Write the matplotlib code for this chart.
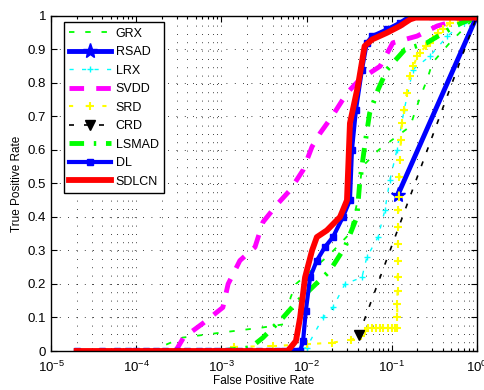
import numpy as np
import matplotlib
matplotlib.use('Agg')
import matplotlib.pyplot as plt
from matplotlib.ticker import LogLocator, NullFormatter, FixedLocator

plt.rcParams['font.family'] = ['Liberation Sans', 'DejaVu Sans']
plt.rcParams['mathtext.default'] = 'regular'

# ROC curves (FPR on log axis, TPR)
grx_fpr = [1.5e-4, 3.5e-4, 1.0e-3, 3.0e-3, 5.5e-3, 6.5e-3, 7.5e-3, 1.9e-2, 3.2e-2,
           4.0e-2, 4.5e-2, 7.0e-2, 0.164, 0.21, 0.26, 0.30, 0.48, 0.75, 1.0]
grx_tpr = [0.0, 0.04, 0.055, 0.07, 0.08, 0.16, 0.20, 0.29, 0.35,
           0.45, 0.55, 0.60, 0.67, 0.75, 0.81, 0.86, 0.92, 0.97, 1.0]

rsad_fpr = [0.118, 1.0]
rsad_tpr = [0.466, 1.0]

lrx_fpr = [6.4e-3, 1.0e-2, 1.56e-2, 2.04e-2, 2.82e-2, 4.47e-2, 5.1e-2, 6.9e-2, 8.3e-2,
           9.5e-2, 0.115, 0.14, 0.177, 0.28, 0.45, 0.7, 1.0]
lrx_tpr = [0.0, 0.01, 0.10, 0.13, 0.20, 0.22, 0.28, 0.34, 0.42,
           0.51, 0.60, 0.72, 0.84, 0.88, 0.94, 0.98, 1.0]

svdd_fpr = [2.9e-4, 3.6e-4, 6.1e-4, 1.04e-3, 1.2e-3, 1.65e-3, 2.48e-3, 3.08e-3, 4.6e-3,
            6.4e-3, 9.1e-3, 1.16e-2, 1.44e-2, 1.99e-2, 2.98e-2, 4.2e-2, 7.3e-2, 0.103,
            0.198, 0.34, 0.63, 1.0]
svdd_tpr = [0.0, 0.04, 0.083, 0.13, 0.2, 0.27, 0.31, 0.385, 0.44,
            0.48, 0.54, 0.61, 0.65, 0.70, 0.77, 0.81, 0.85, 0.92,
            0.94, 0.97, 0.99, 1.0]

srd_fpr = [1.4e-3, 4e-3, 1e-2, 2e-2, 3.3e-2, 4.3e-2, 4.8e-2, 5.2e-2, 5.8e-2, 6.5e-2,
           7.2e-2, 8e-2, 9e-2, 0.1, 0.108, 0.115, 0.116, 0.116, 0.117, 0.117,
           0.118, 0.118, 0.119, 0.12, 0.121, 0.123, 0.125, 0.128, 0.131, 0.14,
           0.15, 0.163, 0.18, 0.198, 0.215, 0.25, 0.28, 0.306, 0.35, 0.40,
           0.48, 0.6, 1.0]
srd_tpr = [0.012, 0.015, 0.02, 0.025, 0.033, 0.045, 0.06, 0.07, 0.07, 0.07,
           0.07, 0.07, 0.07, 0.07, 0.07, 0.07, 0.1, 0.14, 0.18, 0.22,
           0.27, 0.32, 0.37, 0.42, 0.46, 0.52, 0.57, 0.63, 0.68, 0.72,
           0.77, 0.82, 0.85, 0.88, 0.89, 0.91, 0.92, 0.93, 0.95, 0.96,
           0.98, 0.99, 1.0]

crd_fpr = [0.041, 1.0]
crd_tpr = [0.048, 1.0]

lsmad_fpr = [1.0e-3, 2.2e-3, 3.08e-3, 5.3e-3, 7.3e-3, 1.88e-2, 2.82e-2, 3.9e-2, 4.2e-2,
             4.8e-2, 5.5e-2, 6.9e-2, 8.8e-2, 0.143, 0.259, 0.55, 0.83, 1.0]
lsmad_tpr = [0.0, 0.01, 0.04, 0.10, 0.14, 0.24, 0.31, 0.40, 0.50,
             0.61, 0.71, 0.78, 0.84, 0.90, 0.92, 0.97, 0.99, 1.0]

dl_fpr = [2e-5, 4e-5, 6e-5, 8e-5, 1e-4, 1.3e-4, 1.7e-4, 2.2e-4, 3e-4, 4e-4, 5.5e-4,
          7e-4, 9e-4, 1.2e-3, 1.6e-3, 2.1e-3, 2.8e-3, 3.6e-3, 4.5e-3, 5.5e-3, 6.5e-3,
          7.5e-3, 8.4e-3, 9.1e-3, 9.8e-3, 1.1e-2, 1.32e-2, 1.64e-2, 2.04e-2, 2.67e-2,
          3.23e-2, 3.41e-2, 3.8e-2, 4.47e-2, 5.1e-2, 5.9e-2, 8.8e-2, 0.125, 0.165,
          0.3, 0.6, 1.0]
dl_tpr = [0, 0, 0, 0, 0, 0, 0, 0, 0, 0, 0,
          0, 0, 0, 0, 0, 0, 0, 0, 0, 0,
          0, 0, 0.03, 0.12, 0.22, 0.27, 0.31, 0.34, 0.40,
          0.45, 0.60, 0.72, 0.84, 0.92, 0.94, 0.96, 0.98, 1.0,
          1.0, 1.0, 1.0]

sdlcn_fpr = [2.0e-5, 6.0e-3, 7.5e-3, 8.4e-3, 9.6e-3, 1.16e-2, 1.32e-2, 1.73e-2, 2.47e-2,
             2.98e-2, 3.23e-2, 4.0e-2, 4.8e-2, 5.9e-2, 8.8e-2, 0.125, 0.165, 0.19, 1.0]
sdlcn_tpr = [0, 0, 0.03, 0.10, 0.22, 0.30, 0.34, 0.36, 0.40,
             0.45, 0.68, 0.79, 0.91, 0.93, 0.95, 0.97, 0.99, 0.995, 0.995]

ytick_labels = ['0', '0.1', '0.2', '0.3', '0.4', '0.5', '0.6', '0.7', '0.8', '0.9', '1']

fig = plt.figure(figsize=(4.84, 3.9), dpi=100)
ax = fig.add_axes([0.1054, 0.1, 0.880, 0.859])

ax.plot(grx_fpr, grx_tpr, color=(0, 1, 0), lw=1.3, ls=(0, (3, 6)), label='GRX')
ax.plot(rsad_fpr, rsad_tpr, color=(0, 0, 1), lw=3.5, marker='*', ms=11, label='RSAD')
ax.plot(lrx_fpr, lrx_tpr, color=(0, 1, 1), lw=1.0, ls=(0, (3, 6)), marker='+', ms=5,
        mew=1.0, label='LRX')
ax.plot(svdd_fpr, svdd_tpr, color=(1, 0, 1), lw=3.5, ls=(0, (3, 2.5)), label='SVDD')
ax.plot(srd_fpr, srd_tpr, color=(1, 1, 0), lw=1.5, ls=(0, (2, 6)), marker='+', ms=6,
        mew=1.5, label='SRD')
ax.plot(crd_fpr, crd_tpr, color='k', lw=1.2, ls=(0, (3, 6)), marker='v', ms=7,
        label='CRD')
ax.plot(lsmad_fpr, lsmad_tpr, color=(0, 1, 0), lw=3.5, ls=(0, (3, 2, 0.5, 2)),
        label='LSMAD')
ax.plot(dl_fpr, dl_tpr, color=(0, 0, 1), lw=3, marker='s', ms=5, label='DL')
ax.plot(sdlcn_fpr, sdlcn_tpr, color=(1, 0, 0), lw=4.2, label='SDLCN')

ax.set_xscale('log')
ax.set_xlim(1e-5, 1)
ax.set_ylim(0, 1)
ax.yaxis.set_major_locator(FixedLocator(np.arange(0, 1.01, 0.1)))
ax.set_yticklabels(ytick_labels)
ax.xaxis.set_minor_locator(LogLocator(base=10, subs=np.arange(2, 10), numticks=20))
ax.xaxis.set_minor_formatter(NullFormatter())

ax.tick_params(which='both', direction='in', top=True, right=True, labelsize=9.5,
               width=0.8, colors='k')
ax.tick_params(which='major', length=4)
ax.tick_params(which='minor', length=2)
ax.tick_params(axis='x', which='major', pad=6)
ax.grid(True, which='both', axis='x', ls=(0, (1, 9)), color='k', lw=0.6)
ax.grid(True, which='major', axis='y', ls=(0, (1, 9)), color='k', lw=0.6)
for s in ax.spines.values():
    s.set_linewidth(1.0)

ax.set_xlabel('False Positive Rate', fontsize=8.5, labelpad=0)
ax.set_ylabel('True Positive Rate', fontsize=8.5, labelpad=3)

leg = ax.legend(loc='upper left', bbox_to_anchor=(0.03, 0.982), fontsize=9,
                handlelength=3.3, labelspacing=0.52, borderaxespad=0,
                fancybox=False, framealpha=1, edgecolor='k', handletextpad=0.4,
                borderpad=0.45)
leg.get_frame().set_linewidth(1.0)

fig.savefig('out.png', dpi=100)
